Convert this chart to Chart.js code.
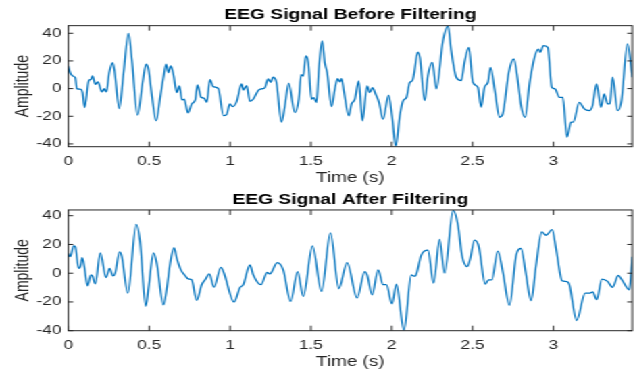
<!DOCTYPE html>
<html><head><meta charset="utf-8">
<script src="https://cdn.jsdelivr.net/npm/chart.js@4.4.0/dist/chart.umd.min.js"></script>
<style>
html,body{margin:0;padding:0;background:#fff;overflow:hidden;width:635px;height:372px;}
#wrap{position:absolute;left:0;top:0;width:470px;height:372px;transform-origin:0 0;transform:scale(1.3511,1);}
.box{position:absolute;left:0;width:470px;}
</style></head><body>
<div id="wrap">
  <div class="box" style="top:0;height:190px"><canvas id="c1"></canvas></div>
  <div class="box" style="top:186px;height:186px"><canvas id="c2"></canvas></div>
</div>
<script>
const titleBefore = 'EEG Signal Before Filtering';
const titleAfter = 'EEG Signal After Filtering';
const xLabel = 'Time (s)';
const yLabel = 'Amplitude';
const xTicks = [0, 0.5, 1, 1.5, 2, 2.5, 3];
const yTicks = [-40, -20, 0, 20, 40];

const timeBefore = [0,0.012,0.028,0.043,0.053,0.078,0.088,0.101,0.126,0.14,0.15,0.167,0.183,0.208,0.222,0.235,0.253,0.274,0.286,0.315,0.342,0.372,0.393,0.428,0.461,0.481,0.496,0.516,0.543,0.568,0.588,0.605,0.619,0.634,0.65,0.671,0.687,0.703,0.717,0.74,0.764,0.785,0.799,0.821,0.841,0.856,0.876,0.896,0.928,0.959,0.979,0.999,1.016,1.041,1.072,1.082,1.103,1.123,1.143,1.174,1.194,1.215,1.236,1.252,1.266,1.287,1.318,1.338,1.363,1.401,1.425,1.44,1.453,1.469,1.484,1.504,1.518,1.535,1.551,1.57,1.586,1.601,1.628,1.648,1.665,1.679,1.69,1.704,1.735,1.751,1.772,1.796,1.819,1.848,1.864,1.881,1.901,1.922,1.946,1.981,2.002,2.025,2.05,2.07,2.091,2.111,2.128,2.138,2.161,2.175,2.204,2.224,2.251,2.276,2.317,2.348,2.368,2.399,2.43,2.45,2.477,2.502,2.533,2.553,2.574,2.595,2.611,2.636,2.667,2.687,2.724,2.755,2.78,2.8,2.825,2.852,2.883,2.907,2.918,2.938,2.965,2.99,3.01,3.037,3.058,3.084,3.109,3.123,3.16,3.191,3.222,3.242,3.267,3.294,3.314,3.335,3.349,3.366,3.397,3.421,3.458,3.488];
const ampBefore = [16.4,11.5,9.1,7.9,0,-0.5,-2.9,-13.7,5.5,6.7,9.1,3.1,4.8,-2.4,0,-2.4,11.5,18.8,12.7,-14.4,11.5,39.9,21.1,-19.2,5.5,17.6,13.9,-4.1,-23.3,-6.5,7.9,17.6,11.5,16.4,10.3,-2.9,1.9,-8.2,-7.7,-17.6,-11,-8.2,2.7,-6.3,-7,-9.9,6.5,1.4,0,-19.5,-18.8,-11,-13,-9.4,3.4,-1,2.2,-9.2,-7.7,-1.4,-0.2,0.5,7,4.6,8.2,4.6,-24.3,-13.5,3.9,-17.3,-8,10,9,23.6,18.8,-7.7,-6.5,-10.1,16.4,34.4,18.8,11.5,-13,-0.5,7.2,4.8,7.2,-1.7,-19.7,-11.3,-7.7,5.5,-23.3,1.9,-2.9,0.7,-4.1,-10.1,-22.1,-4.8,-19.7,-41.9,-19.7,-8.9,-6.5,4.3,5.8,10.6,26.3,22,-8.7,9.4,19,-0.2,34.6,45.4,27.4,8.2,5.8,19,29.8,4.6,1,-13.5,1,4.6,15.4,-0.2,-20.7,-18.3,11.8,21.4,5.8,-12.3,-20.7,3.4,22.6,28.6,26.2,31,29.8,1,-0.2,-6.3,-6.3,-35.1,-24.3,-24.3,-9.9,-14.7,-15.9,-12.3,3.4,-13.5,-3.8,-11.1,-11.1,8.2,-15.9,-8.7,32.3,8.2];

const timeAfter = [0,0.012,0.033,0.043,0.064,0.074,0.086,0.099,0.119,0.14,0.15,0.167,0.198,0.233,0.255,0.276,0.29,0.317,0.331,0.368,0.42,0.444,0.479,0.496,0.527,0.547,0.588,0.609,0.63,0.654,0.671,0.696,0.722,0.743,0.763,0.794,0.825,0.846,0.872,0.901,0.944,0.963,1.025,1.062,1.082,1.123,1.144,1.191,1.23,1.247,1.292,1.329,1.375,1.418,1.453,1.51,1.566,1.621,1.673,1.724,1.786,1.833,1.848,1.879,1.916,1.947,1.967,2.002,2.029,2.076,2.121,2.138,2.148,2.183,2.224,2.259,2.296,2.327,2.38,2.41,2.434,2.467,2.486,2.512,2.539,2.578,2.599,2.619,2.656,2.687,2.728,2.77,2.8,2.828,2.862,2.893,2.928,2.955,2.992,3.016,3.054,3.074,3.095,3.144,3.196,3.226,3.243,3.268,3.3,3.335,3.366,3.401,3.424,3.469,3.488];
const ampAfter = [13.8,11.5,19,18.4,3.4,4.6,10.8,4.6,-8.8,-1.2,-2,-7.4,14.2,-3,3.4,-1.9,0,14.9,11.5,-13.8,34,21.8,-23,-10.6,14.2,6.9,-22,-10.6,6.9,17.7,10.3,2.3,-1.6,-4,-4.6,-18.9,-8,-4.6,-0.5,-9.7,4.1,0,-20,-9.9,-8,5.7,-1.2,-8,0.5,-0.5,7.3,2.3,-19.6,1.1,-16.1,19,-12.7,28,-10.8,7.3,-17.2,1.1,-1.2,-15,2.3,-8,-8,-21.4,-7.6,-39.9,-1.2,-2,-1.6,12.6,16,-6.9,23.5,0,43.7,33.3,12.6,4.6,10.3,23,18.4,-7.6,-4.6,-4.6,15.4,1.1,-22.3,12.6,17.2,1.1,-19.1,5.7,28.7,26.4,30.3,17.2,-5.3,-5.7,-6.9,-32.9,-13.8,-13.8,-13,-18.4,-4.1,-5.7,-9.9,-1.6,-4.6,-11.5,11.5];

const FONT = "'Liberation Sans', Arial, Helvetica, sans-serif";
const AX = '#262626';
const LINE = '#0072BD';
const X_MAX = 3.488;

const boxTicks = {
  id: 'boxTicks',
  afterDatasetsDraw(chart) {
    const {ctx, chartArea: a, scales: {x, y}} = chart;
    ctx.save();
    ctx.strokeStyle = AX;
    ctx.lineWidth = 1;
    ctx.beginPath();
    x.ticks.forEach(t => {
      const px = x.getPixelForValue(t.value);
      ctx.moveTo(px, a.bottom); ctx.lineTo(px, a.bottom - 5);
      ctx.moveTo(px, a.top); ctx.lineTo(px, a.top + 5);
    });
    y.ticks.forEach(t => {
      const py = y.getPixelForValue(t.value);
      ctx.moveTo(a.left, py); ctx.lineTo(a.left + 3.7, py);
      ctx.moveTo(a.right, py); ctx.lineTo(a.right - 3.7, py);
    });
    ctx.stroke();
    ctx.strokeRect(a.left, a.top, a.right - a.left, a.bottom - a.top);
    ctx.restore();
  }
};

function makeChart(id, title, t, v, yMin, yMax, cfg) {
  return new Chart(document.getElementById(id), {
    type: 'line',
    data: {
      datasets: [{
        data: t.map((tt, i) => ({x: tt, y: v[i]})),
        borderColor: LINE,
        borderWidth: 1.3,
        pointRadius: 0,
        cubicInterpolationMode: 'monotone',
        fill: false
      }]
    },
    options: {
      responsive: true,
      maintainAspectRatio: false,
      animation: false,
      devicePixelRatio: 1,
      layout: {padding: {left: 0, right: 2, top: 0, bottom: 0}},
      plugins: {
        legend: {display: false},
        tooltip: {enabled: false},
        title: {
          display: true, text: title, fullSize: false, color: '#000',
          font: {family: FONT, size: 14.3, weight: 'bold', lineHeight: 1.2},
          padding: {top: cfg.tTop, bottom: cfg.tBot}
        }
      },
      scales: {
        x: {
          type: 'linear', min: 0, max: X_MAX,
          grid: {display: false, drawTicks: false},
          border: {display: false},
          afterBuildTicks: s => { s.ticks = xTicks.map(val => ({value: val})); },
          afterFit: s => { s.height = cfg.xH; },
          ticks: {padding: cfg.xPad, color: AX, font: {family: FONT, size: 12.8, lineHeight: 1.2},
                  callback: val => String(val), maxRotation: 0, autoSkip: false},
          title: {display: true, text: xLabel, color: AX, font: {family: FONT, size: 14, lineHeight: 1.2},
                  padding: {top: 0, bottom: cfg.xtPad}}
        },
        y: {
          type: 'linear', min: yMin, max: yMax,
          grid: {display: false, drawTicks: false},
          border: {display: false},
          afterBuildTicks: s => { s.ticks = yTicks.map(val => ({value: val})); },
          afterFit: s => { s.width = 50.55; },
          ticks: {padding: 5, color: AX, font: {family: FONT, size: 12.8, lineHeight: 1.2},
                  callback: val => String(val), autoSkip: false},
          title: {display: true, text: yLabel, color: AX, font: {family: FONT, size: 14, lineHeight: 1.2},
                  padding: {top: 9, bottom: 0}}
        }
      }
    },
    plugins: [boxTicks]
  });
}

makeChart('c1', titleBefore, timeBefore, ampBefore, -42, 45.5,
  {tTop: 6.4, tBot: 2.1, xH: 43.3, xPad: 6.8, xtPad: 3.6});
makeChart('c2', titleAfter, timeAfter, ampAfter, -40, 44,
  {tTop: 5.4, tBot: 1.4, xH: 41.3, xPad: 7.0, xtPad: 1.6});
</script>
</body></html>
